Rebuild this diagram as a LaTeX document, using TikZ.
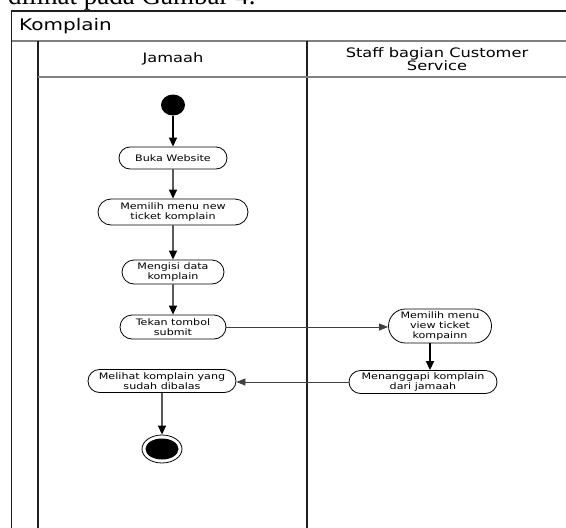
\documentclass[tikz,border=0pt]{standalone}
\usepackage{fontspec}
\setmainfont{Liberation Serif}
\newfontfamily\lanefont[FakeStretch=1.25]{DejaVu Sans}
\usetikzlibrary{shapes.misc,shapes.geometric,arrows.meta}

\tikzset{
  frameline/.style={line width=1.4pt, draw=black!88},
  ruleline/.style={line width=1.2pt, draw=black!50},
  act/.style={draw, line width=0.8pt, rounded rectangle, align=center,
    font=\lanefont\fontsize{8.9}{10}\selectfont, inner sep=1pt, minimum height=22pt},
  flow/.style={line width=1.4pt, -{Triangle[length=9pt,width=8pt]}},
  flowthin/.style={line width=0.8pt, draw=black!75, -{Triangle[length=9pt,width=7pt]}},
  hdr/.style={font=\lanefont\fontsize{13}{13}\selectfont, align=center},
}

\begin{document}
\begin{tikzpicture}[x=1pt,y=-1pt]
\useasboundingbox (0,0) rectangle (566,528);
\begin{scope}
\clip (0,0) rectangle (566,528);
% running text of the page above the figure
\node[anchor=base west, font=\fontsize{27}{27}\selectfont, inner sep=0] (pagetext) at (8,4.5) {dilihat pada Gambar 4.};

% swimlane frame
\draw[frameline] (11.5,528) -- (11.5,11) -- (566,11);
\draw[ruleline] (11.5,41) -- (566,41);
\draw[frameline] (38,41) -- (38,528);
\draw[frameline] (307,41) -- (307,528);
\draw[ruleline] (38,77) -- (566,77);
\end{scope}

\node[anchor=west, font=\lanefont\fontsize{16}{16}\selectfont, inner sep=0] (title) at (19,26) {Komplain};
\node[hdr] (jamaah) at (173,59) {Jamaah};
\node[hdr] (staff) at (437,59) {Staff bagian Customer\\Service};

% activities
\node[ellipse, fill=black, minimum width=24pt, minimum height=21pt, inner sep=0] (start) at (173,105) {};
\node[act, minimum width=110pt] (buka) at (173,158) {Buka Website};
\node[act, minimum width=152pt, minimum height=26pt] (menu) at (173,212) {Memilih menu new\\ticket komplain};
\node[act, minimum width=104pt, minimum height=24pt] (isi) at (173,272) {Mengisi data\\komplain};
\node[act, minimum width=108pt, minimum height=24pt] (submit) at (173,327) {Tekan tombol\\submit};
\node[act, minimum width=105pt, minimum height=34pt] (view) at (440,326) {Memilih menu\\view ticket\\kompainn};
\node[act, minimum width=150pt, minimum height=23pt] (tanggap) at (423,382) {Menanggapi komplain\\dari jamaah};
\node[act, minimum width=150pt, minimum height=23pt] (lihat) at (162,381) {Melihat komplain yang\\sudah dibalas};
\node[ellipse, draw, line width=0.8pt, minimum width=40pt, minimum height=28pt, inner sep=0] (end) at (162,449) {};
\node[ellipse, fill=black, minimum width=33pt, minimum height=21pt, inner sep=0] (endcore) at (end) {};

% control flow
\draw[flow] (start) -- (buka);
\draw[flow] (buka) -- (menu);
\draw[flow] (menu) -- (isi);
\draw[flow] (isi) -- (submit);
\draw[flowthin] (submit.east) -- (submit.east -| view.west);
\draw[flow] ([xshift=-10pt]view.south) -- ([xshift=-10pt]view.south |- tanggap.north);
\draw[flowthin] (tanggap.west) -- (tanggap.west -| lihat.east);
\draw[flow] (lihat) -- (end);
\end{tikzpicture}
\end{document}
